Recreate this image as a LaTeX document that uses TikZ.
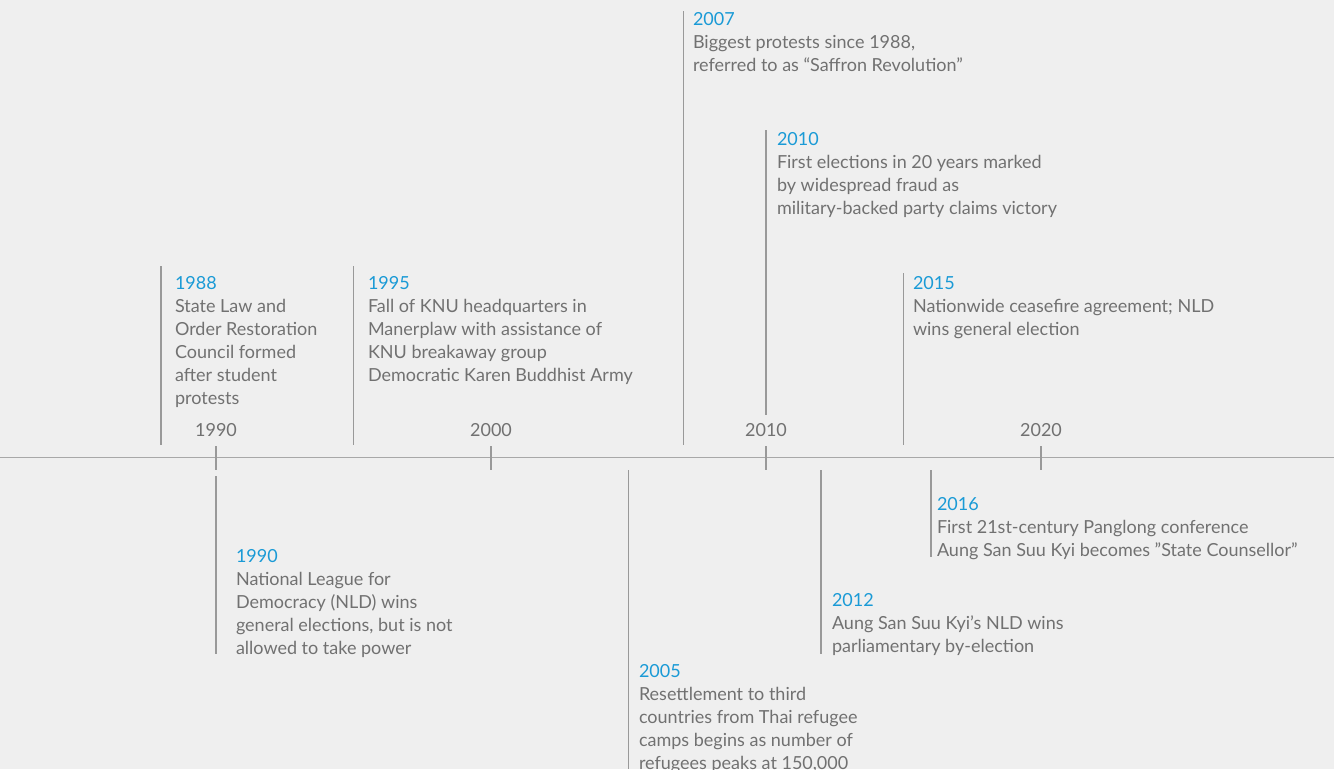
\documentclass[tikz,border=0pt]{standalone}
\usepackage{fontspec}
\setmainfont{Lato}
\definecolor{bg}{HTML}{EFEFEF}
\definecolor{yearblue}{HTML}{1A9AD6}
\definecolor{txtgray}{HTML}{717171}
\definecolor{linegray}{HTML}{999999}
\begin{document}
\begin{tikzpicture}[x=1pt,y=-1pt,
  evtext/.style={anchor=north west,inner sep=0pt,outer sep=0pt,align=left,text=txtgray,
    font={\fontsize{18}{23}\selectfont}},
  ticklabel/.style={anchor=north,inner sep=0pt,text=txtgray,font={\fontsize{18}{23}\selectfont}},
  marker/.style={draw=linegray,line width=1.3pt},
  axisline/.style={draw=linegray!85,line width=0.9pt}]
\fill[bg] (0,0) rectangle (1334,769);
\useasboundingbox (0,0) rectangle (1334,769);
% axis
\coordinate (axL) at (0,457.5);
\coordinate (axR) at (1334,457.5);
\draw[axisline] (axL) -- (axR);
% ticks
\foreach \x/\yr in {216/1990,491/2000,766/2010,1041/2020}{
  \coordinate (t\yr a) at (\x,446);
  \coordinate (t\yr b) at (\x,470);
  \draw[marker] (t\yr a) -- (t\yr b);
  \node[ticklabel] (lab\yr) at (\x,423) {\yr};
}
% events above
\newcommand{\yrc}[1]{\textcolor{yearblue}{#1}}
\coordinate (e88a) at (161,266); \coordinate (e88b) at (161,445);
\draw[marker] (e88a) -- (e88b);
\node[evtext] (ev1988) at (175,276) {\yrc{1988}\\State Law and\\Order Restoration\\Council formed\\after student\\protests};

\coordinate (e95a) at (353.5,266); \coordinate (e95b) at (353.5,445);
\draw[marker] (e95a) -- (e95b);
\node[evtext] (ev1995) at (368,276) {\yrc{1995}\\Fall of KNU headquarters in\\Manerplaw with assistance of\\KNU breakaway group\\Democratic Karen Buddhist Army};

\coordinate (e07a) at (683.5,11); \coordinate (e07b) at (683.5,445);
\draw[marker] (e07a) -- (e07b);
\node[evtext] (ev2007) at (693,12) {\yrc{2007}\\Biggest protests since 1988,\\referred to as ``Saffron Revolution''};

\coordinate (e10a) at (766,130); \coordinate (e10b) at (766,415);
\draw[marker] (e10a) -- (e10b);
\node[evtext] (ev2010) at (777,132) {\yrc{2010}\\First elections in 20 years marked\\by widespread fraud as\\military-backed party claims victory};

\coordinate (e15a) at (903.5,273); \coordinate (e15b) at (903.5,445);
\draw[marker] (e15a) -- (e15b);
\node[evtext] (ev2015) at (913,276) {\yrc{2015}\\Nationwide ceasefire agreement; NLD\\wins general election};

% events below
\coordinate (e90a) at (216,476); \coordinate (e90b) at (216,654);
\draw[marker] (e90a) -- (e90b);
\node[evtext] (ev1990) at (236,549) {\yrc{1990}\\National League for\\Democracy (NLD) wins\\general elections, but is not\\allowed to take power};

\coordinate (e05a) at (628.5,470); \coordinate (e05b) at (628.5,769);
\draw[marker] (e05a) -- (e05b);
\node[evtext] (ev2005) at (639,664) {\yrc{2005}\\Resettlement to third\\countries from Thai refugee\\camps begins as number of\\refugees peaks at 150,000};

\coordinate (e12a) at (821,470); \coordinate (e12b) at (821,654);
\draw[marker] (e12a) -- (e12b);
\node[evtext] (ev2012) at (832,593) {\yrc{2012}\\Aung San Suu Kyi's NLD wins\\parliamentary by-election};

\coordinate (e16a) at (931,470); \coordinate (e16b) at (931,557);
\draw[marker] (e16a) -- (e16b);
\node[evtext] (ev2016) at (937,497) {\yrc{2016}\\First 21st-century Panglong conference\\Aung San Suu Kyi becomes \symbol{34}State Counsellor\symbol{34}};
\end{tikzpicture}
\end{document}
